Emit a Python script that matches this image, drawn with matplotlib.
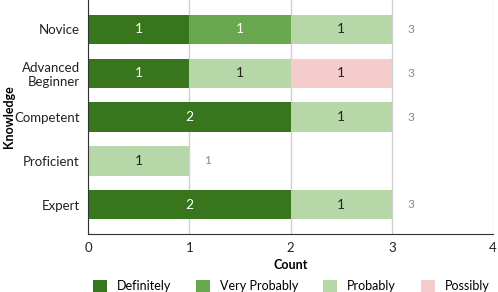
import numpy as np
import matplotlib.pyplot as plt
from matplotlib.patches import Patch

plt.rcParams['font.family'] = ['Lato', 'DejaVu Sans']

# data
levels = ['Novice', 'Advanced\nBeginner', 'Competent', 'Proficient', 'Expert']
series = ['Definitely', 'Very Probably', 'Probably', 'Possibly']
definitely = [1, 1, 2, 0, 2]
very_probably = [1, 0, 0, 0, 0]
probably = [1, 1, 1, 1, 1]
possibly = [0, 1, 0, 0, 0]

colors = ['#38761d', '#6aa84f', '#b6d7a8', '#f4cccc']
text_colors = ['white', 'white', '#222222', '#222222']

fig = plt.figure(figsize=(4.98, 2.92), dpi=100)
ax = fig.add_axes([0.1767, 0.1986, 0.8133, 0.8014])

y = np.arange(len(levels))
left = np.zeros(len(levels))
for vals, col, tc in zip([definitely, very_probably, probably, possibly], colors, text_colors):
    vals = np.array(vals, dtype=float)
    ax.barh(y, vals, left=left, height=0.66, color=col, zorder=3)
    for yi, l, v in zip(y, left, vals):
        if v > 0:
            ax.text(l + v / 2, yi, f'{int(v)}', ha='center', va='center',
                    color=tc, fontsize=10, zorder=4)
    left += vals

# totals
for yi, tot in zip(y, left):
    ax.annotate(f'{int(tot)}', (tot, yi), xytext=(11, 0), textcoords='offset points',
                ha='left', va='center', color='#888888', fontsize=8.5)

ax.set_xlim(0, 4)
ax.set_ylim(len(levels) - 1 + 0.66, -0.66)
ax.set_yticks(y)
ax.set_yticklabels(levels, fontsize=9.5, color='#222222')
ax.set_xticks([0, 1, 2, 3, 4])
ax.tick_params(axis='x', labelsize=9.5, length=0, pad=6, colors='#222222')
ax.tick_params(axis='y', length=0, pad=6)
ax.grid(axis='x', color='#d0d0d0', linewidth=1, zorder=0)
for s in ['top', 'right']:
    ax.spines[s].set_visible(False)
for s in ['left', 'bottom']:
    ax.spines[s].set_color('#333333')
    ax.spines[s].set_zorder(5)

ax.set_xlabel('Count', fontsize=9, fontweight='bold', labelpad=3)
ax.set_ylabel('Knowledge', fontsize=9, fontweight='bold')
ax.yaxis.set_label_coords(-0.18, 0.5)

handles = [Patch(facecolor=c, edgecolor='none') for c in colors]
fig.legend(handles, series, loc='lower center', ncol=4, frameon=False,
           bbox_to_anchor=(0.585, -0.04), fontsize=9, handlelength=1.1,
           handleheight=1.1, columnspacing=2.0, handletextpad=0.8)

fig.savefig('out.png', dpi=100)
